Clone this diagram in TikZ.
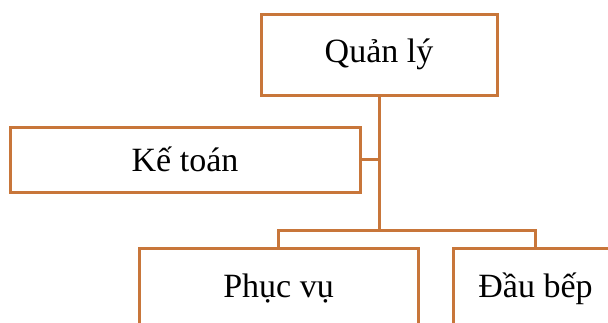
\documentclass[tikz,border=0pt]{standalone}
\usepackage{fontspec}
\setmainfont{Liberation Serif}
\definecolor{boxline}{RGB}{200,118,58}
\begin{document}
\begin{tikzpicture}[x=1pt,y=-1pt,
  orgbox/.style={draw=boxline,line width=3pt,fill=white,inner sep=0pt,
    font=\fontsize{34}{40}\selectfont},
  link/.style={draw=boxline,line width=3pt}]
\useasboundingbox (0,0) rectangle (608,322);
\clip (0,0) rectangle (608,322);
\node[orgbox,minimum width=236pt,minimum height=81pt] (Q) at (379,54.5) {Quản lý};
\node[orgbox,minimum width=350pt,minimum height=65pt] (K) at (185,159.5) {Kế toán};
\node[orgbox,minimum width=279pt,minimum height=82pt] (P) at (278.5,289) {Phục vụ};
\node[orgbox,minimum width=165pt,minimum height=82pt] (D) at (535.5,289) {Đầu bếp};
\coordinate (J) at (379,230);
\draw[link] (Q.south) -- (J);
\draw[link] (K.east) -- (K.east -| Q.south);
\draw[link] (P.north) |- (J) -| (D.north);
\end{tikzpicture}
\end{document}
